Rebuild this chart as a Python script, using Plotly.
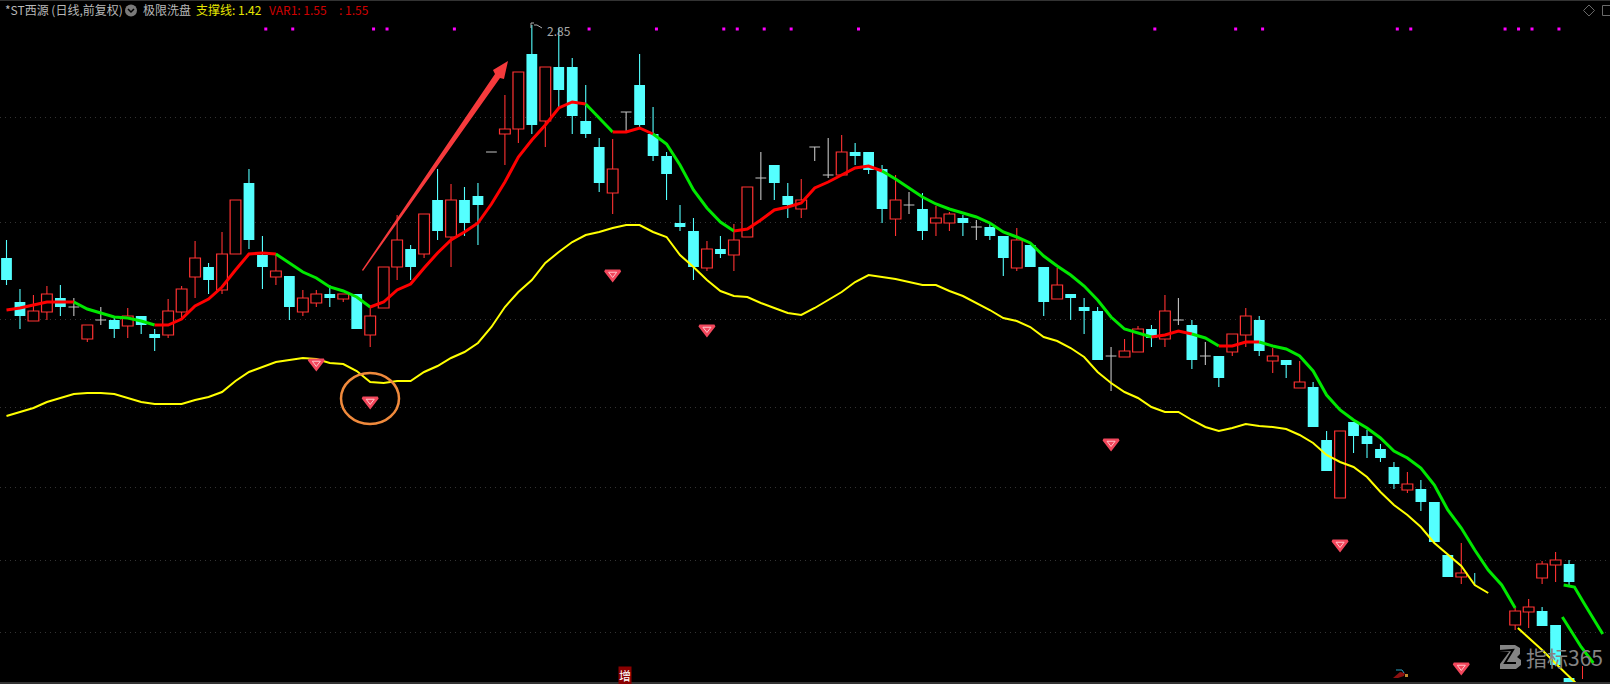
import plotly.graph_objects as go

# ---- data (prices) ----
bar_index = list(range(109)) + [112, 113, 114, 115, 116, 114, 115, 116]
open_ = [2.384,2.296,2.258,2.276,2.304,2.286,2.222,2.26,2.26,2.248,2.268,2.232,2.23,2.276,2.346,2.366,2.32,2.392,2.534,2.39,
         2.346,2.348,2.276,2.294,2.312,2.302,2.312,2.23,2.284,2.366,2.402,2.392,2.5,2.426,2.5,2.508,2.596,2.632,2.642,2.792,
         2.658,2.766,2.766,2.658,2.606,2.514,2.676,2.73,2.632,2.588,2.454,2.438,2.364,2.402,2.39,2.426,2.544,2.57,2.508,2.482,
         2.606,2.55,2.55,2.596,2.596,2.562,2.462,2.49,2.482,2.454,2.454,2.464,2.446,2.446,2.428,2.364,2.41,2.366,2.302,2.312,
         2.286,2.278,2.188,2.186,2.196,2.242,2.222,2.26,2.25,2.188,2.188,2.196,2.23,2.26,2.178,2.18,2.124,2.126,2.02,1.904,
         2.056,2.028,2.002,1.966,1.92,1.922,1.896,1.79,1.746,
         1.65,1.676,1.678,1.65,1.544,1.744,1.77,1.772]
high = [2.42,2.322,2.31,2.328,2.33,2.304,2.25,2.286,2.268,2.284,2.268,2.242,2.302,2.328,2.418,2.374,2.436,2.5,2.562,2.428,
        2.394,2.348,2.32,2.32,2.33,2.312,2.312,2.286,2.366,2.47,2.41,2.472,2.562,2.532,2.526,2.534,2.596,2.71,2.756,2.85,
        2.766,2.844,2.784,2.73,2.624,2.622,2.676,2.792,2.686,2.596,2.49,2.464,2.418,2.428,2.452,2.526,2.596,2.57,2.534,2.542,
        2.606,2.624,2.63,2.614,2.596,2.57,2.55,2.516,2.514,2.488,2.476,2.47,2.46,2.452,2.428,2.444,2.41,2.366,2.364,2.312,
        2.304,2.286,2.206,2.222,2.248,2.25,2.31,2.304,2.26,2.216,2.188,2.232,2.284,2.268,2.204,2.18,2.178,2.136,2.038,2.038,
        2.056,2.04,2.012,1.976,1.956,1.94,1.896,1.79,1.814,
        1.684,1.702,1.686,1.65,1.544,1.778,1.796,1.78]
low = [2.33,2.242,2.258,2.26,2.268,2.268,2.216,2.25,2.224,2.224,2.232,2.198,2.224,2.264,2.304,2.312,2.312,2.392,2.402,2.322,
       2.33,2.26,2.268,2.286,2.286,2.296,2.242,2.206,2.284,2.34,2.34,2.384,2.42,2.366,2.428,2.41,2.596,2.57,2.614,2.632,
       2.606,2.686,2.632,2.624,2.516,2.472,2.634,2.646,2.578,2.5,2.438,2.34,2.358,2.384,2.358,2.426,2.5,2.5,2.464,2.464,
       2.578,2.544,2.55,2.57,2.552,2.454,2.428,2.472,2.42,2.428,2.438,2.428,2.42,2.42,2.348,2.358,2.366,2.268,2.302,2.26,
       2.232,2.18,2.118,2.186,2.196,2.206,2.206,2.25,2.162,2.17,2.126,2.188,2.206,2.188,2.154,2.144,2.124,2.046,1.958,1.904,
       1.994,1.984,1.976,1.922,1.914,1.878,1.816,1.746,1.732,
       1.64,1.644,1.648,1.57,1.53,1.732,1.736,1.728]
close = [2.34,2.268,2.278,2.312,2.286,2.286,2.25,2.26,2.242,2.268,2.25,2.224,2.278,2.322,2.384,2.34,2.392,2.5,2.42,2.366,
         2.358,2.286,2.304,2.312,2.304,2.312,2.242,2.268,2.366,2.42,2.366,2.472,2.438,2.5,2.454,2.49,2.596,2.642,2.756,2.65,
         2.766,2.72,2.668,2.632,2.534,2.562,2.676,2.65,2.588,2.552,2.446,2.366,2.402,2.392,2.42,2.526,2.544,2.534,2.49,2.5,
         2.606,2.55,2.596,2.588,2.56,2.482,2.5,2.49,2.438,2.464,2.472,2.454,2.446,2.428,2.384,2.42,2.366,2.296,2.33,2.304,
         2.278,2.18,2.188,2.198,2.242,2.224,2.278,2.26,2.18,2.188,2.144,2.232,2.268,2.198,2.188,2.17,2.136,2.046,1.958,2.038,
         2.028,2.012,1.984,1.932,1.932,1.896,1.816,1.746,1.754,
         1.678,1.686,1.648,1.57,1.53,1.772,1.78,1.736]

stub_index = [109, 117]
stub_high = [1.754, 1.568]
stub_low = [1.73, 1.542]
stub_color = ["#54FFFF", "#FF3232"]

var1 = [2.28,2.284,2.29,2.296,2.296,2.296,2.282,2.274,2.266,2.264,2.258,2.25,2.25,2.262,2.288,2.302,2.326,2.36,2.392,2.394,
        2.392,2.374,2.356,2.344,2.326,2.318,2.306,2.286,2.296,2.32,2.332,2.364,2.394,2.42,2.436,2.454,2.492,2.536,2.586,2.62,
        2.65,2.684,2.696,2.692,2.664,2.636,2.636,2.644,2.632,2.612,2.57,2.52,2.484,2.456,2.438,2.442,2.46,2.48,2.486,2.494,
        2.524,2.536,2.55,2.564,2.568,2.558,2.542,2.524,2.506,2.492,2.482,2.474,2.466,2.454,2.436,2.426,2.414,2.388,2.368,2.35,
        2.328,2.3,2.266,2.242,2.234,2.226,2.23,2.238,2.232,2.224,2.208,2.208,2.216,2.216,2.208,2.202,2.188,2.158,2.11,2.08,
        2.06,2.044,2.024,1.998,1.984,1.964,1.93,1.88,1.844,1.8,1.76,1.73,1.684]
var1_turns = [0,5,11,20,27,43,45,48,54,65,85,88,90,93,112]

support = [2.068,2.076,2.084,2.096,2.104,2.112,2.114,2.114,2.112,2.104,2.096,2.092,2.092,2.092,2.1,2.106,2.116,2.138,2.156,2.166,
           2.176,2.18,2.184,2.182,2.174,2.172,2.158,2.136,2.134,2.138,2.138,2.156,2.168,2.184,2.196,2.214,2.246,2.286,2.316,2.34,
           2.374,2.396,2.416,2.43,2.436,2.444,2.45,2.45,2.436,2.426,2.39,2.366,2.34,2.318,2.308,2.306,2.294,2.284,2.274,2.27,
           2.284,2.3,2.316,2.336,2.35,2.346,2.342,2.336,2.33,2.33,2.318,2.308,2.294,2.28,2.264,2.258,2.246,2.226,2.218,2.204,
           2.186,2.156,2.134,2.116,2.104,2.086,2.076,2.076,2.06,2.046,2.038,2.044,2.052,2.048,2.046,2.042,2.03,2.014,1.99,1.976,
           1.966,1.946,1.916,1.89,1.87,1.846,1.814,1.79,1.768,1.73,1.714]

support_tail_x = [112.2, 114, 115.5, 116.5]
support_tail = [1.644, 1.6, 1.56, 1.534]
green_tail_a_x = [115.5, 116.9, 117.8]
green_tail_a = [1.666, 1.606, 1.574]
green_tail_b_x = [115.6, 116.4, 117.1, 118.5]
green_tail_b = [1.73, 1.726, 1.694, 1.632]

gem_index = [23, 27, 45, 52, 82, 99, 108]
gem_price = [2.174, 2.098, 2.352, 2.242, 2.014, 1.812, 1.566]

signal_index = [19,21,27,28,33,43,48,53,54,56,58,63,85,91,93,103,104,111,112,113,115]
signal_level = 2.842

grid_levels = [2.666, 2.456, 2.262, 2.086, 1.926, 1.78, 1.636]

BAR = 0.8
RED, CYAN, GREY = "#FF3232", "#54FFFF", "#C4C4C4"

fig = go.Figure()

# candle bodies
up = [k for k in range(len(bar_index)) if close[k] > open_[k]]
dn = [k for k in range(len(bar_index)) if close[k] < open_[k]]
fl = [k for k in range(len(bar_index)) if close[k] == open_[k]]
fig.add_trace(go.Bar(x=[bar_index[k] for k in up], y=[close[k]-open_[k] for k in up], base=[open_[k] for k in up],
                     width=BAR, marker=dict(color="#000000", line=dict(color=RED, width=1.2)), hoverinfo="skip"))
fig.add_trace(go.Bar(x=[bar_index[k] for k in dn], y=[close[k]-open_[k] for k in dn], base=[open_[k] for k in dn],
                     width=BAR, marker=dict(color=CYAN, line=dict(color=CYAN, width=0)), hoverinfo="skip"))

# wicks, stopping at the body so that hollow candles stay empty
def wicks(keys):
    xs, ys = [], []
    for k in keys:
        top, bot = max(open_[k], close[k]), min(open_[k], close[k])
        if high[k] > top:
            xs += [bar_index[k], bar_index[k], None]; ys += [top, high[k], None]
        if low[k] < bot:
            xs += [bar_index[k], bar_index[k], None]; ys += [bot, low[k], None]
    return xs, ys

for keys, col in ((up, RED), (dn, CYAN), (fl, GREY)):
    xs, ys = wicks(keys)
    fig.add_trace(go.Scatter(x=xs, y=ys, mode="lines", line=dict(color=col, width=1.1), hoverinfo="skip"))

dx, dy = [], []
for k in fl:
    dx += [bar_index[k]-BAR/2, bar_index[k]+BAR/2, None]; dy += [open_[k], open_[k], None]
fig.add_trace(go.Scatter(x=dx, y=dy, mode="lines", line=dict(color=GREY, width=1), hoverinfo="skip"))

for i, hi, lo, col in zip(stub_index, stub_high, stub_low, stub_color):
    fig.add_trace(go.Scatter(x=[i, i], y=[hi, lo], mode="lines", line=dict(color=col, width=1), hoverinfo="skip"))

# support line
fig.add_trace(go.Scatter(x=list(range(len(support))), y=support, mode="lines",
                         line=dict(color="#FFFF00", width=2), hoverinfo="skip"))
fig.add_trace(go.Scatter(x=support_tail_x, y=support_tail, mode="lines",
                         line=dict(color="#FFFF00", width=2), hoverinfo="skip"))

# VAR1 line: red while rising, green while falling
for s, (a, b) in enumerate(zip(var1_turns[:-1], var1_turns[1:])):
    fig.add_trace(go.Scatter(x=list(range(a, b+1)), y=var1[a:b+1], mode="lines",
                             line=dict(color="#FF0000" if s % 2 == 0 else "#00E800", width=3), hoverinfo="skip"))
for tx, ty in ((green_tail_a_x, green_tail_a), (green_tail_b_x, green_tail_b)):
    fig.add_trace(go.Scatter(x=tx, y=ty, mode="lines", line=dict(color="#00E800", width=3), hoverinfo="skip"))

# gem signals
fig.add_trace(go.Scatter(x=gem_index, y=gem_price, mode="markers", hoverinfo="skip",
                         marker=dict(symbol="triangle-down", size=13, color="#F2475C", line=dict(color="#F2475C", width=2.5))))
fig.add_trace(go.Scatter(x=gem_index, y=gem_price, mode="markers", hoverinfo="skip",
                         marker=dict(symbol="triangle-down-open", size=7, color="#FFC4CA", line=dict(color="#FFC4CA", width=1))))

# magenta dots
fig.add_trace(go.Scatter(x=[i+0.25 for i in signal_index], y=[signal_level]*len(signal_index), mode="markers",
                         hoverinfo="skip", marker=dict(symbol="square", size=3, color="#FF00FF")))

W, H = 1610, 684
PX = lambda x: x/W
PY = lambda y: 1-y/H

def path(points, close_path=True):
    return "M" + " L".join(f"{PX(x):.5f},{PY(y):.5f}" for x, y in points) + (" Z" if close_path else "")

shapes = []
# the grid stops at the repainted lower right corner
shapes.append(dict(type="rect", xref="paper", yref="paper", x0=PX(1473), x1=1, y0=PY(682), y1=PY(540), layer="below",
                   line=dict(width=0), fillcolor="#000000"))
shapes.append(dict(type="path", xref="paper", yref="paper", line=dict(width=0), fillcolor="#F63A3C",
                   path=path([(362,270),(495,74),(493,70),(508,61),(504,79),(500,78),(363,271)])))
shapes.append(dict(type="circle", xref="paper", yref="paper", x0=PX(341), x1=PX(399), y0=PY(424), y1=PY(373),
                   line=dict(color="#F08A3C", width=2.5)))
# frame lines
shapes.append(dict(type="rect", xref="paper", yref="paper", x0=0, x1=1, y0=PY(1), y1=1, line=dict(width=0), fillcolor="#333333"))
shapes.append(dict(type="rect", xref="paper", yref="paper", x0=0, x1=1, y0=0, y1=PY(682), line=dict(width=0), fillcolor="#333333"))
# header toggle
shapes.append(dict(type="circle", xref="paper", yref="paper", x0=PX(125), x1=PX(137), y0=PY(16.5), y1=PY(4.5),
                   line=dict(width=0), fillcolor="#7A7A7A"))
shapes.append(dict(type="path", xref="paper", yref="paper", line=dict(color="#000000", width=1.5),
                   path=path([(128,9),(131,12),(134,9)], False)))
# top right icons
shapes.append(dict(type="path", xref="paper", yref="paper", line=dict(color="#6A6A6A", width=1),
                   path=path([(1589,5),(1594.5,10.5),(1589,16),(1583.5,10.5)])))
shapes.append(dict(type="rect", xref="paper", yref="paper", x0=PX(1602.5), x1=PX(1612), y0=PY(15.5), y1=PY(5.5),
                   line=dict(color="#6A6A6A", width=1)))
# high-price flag
shapes.append(dict(type="path", xref="paper", yref="paper", line=dict(color="#B0B0B0", width=1),
                   path=path([(531,28),(531,23),(534,23)], False)))
shapes.append(dict(type="path", xref="paper", yref="paper", line=dict(color="#B0B0B0", width=1),
                   path=path([(534,25),(537,25),(542,28)], False)))
# small bird mark
shapes.append(dict(type="path", xref="paper", yref="paper", line=dict(width=0), fillcolor="#8C1010",
                   path=path([(1393,678),(1400,672),(1405,673),(1404,676),(1398,678)])))
shapes.append(dict(type="path", xref="paper", yref="paper", line=dict(color="#2AA0C0", width=1),
                   path=path([(1396,670),(1402,670),(1404,673)], False)))
shapes.append(dict(type="rect", xref="paper", yref="paper", x0=PX(1405), x1=PX(1408), y0=PY(677), y1=PY(674),
                   line=dict(width=0), fillcolor="#C08A30"))
# watermark logo
LOGO = "#848484"
shapes.append(dict(type="path", xref="paper", yref="paper", line=dict(width=0), fillcolor=LOGO, layer="above",
                   path=path([(1500,645),(1515,645),(1520,648),(1520,654),(1517,657),(1521,660),(1521,665),(1516,669),
                              (1500,669),(1500,664),(1509,652),(1500,652)])))
shapes.append(dict(type="path", xref="paper", yref="paper", line=dict(color="#000000", width=2), layer="above",
                   path=path([(1499,651),(1513,650),(1505,663),(1516,663)], False)))

TXT = "Noto Sans CJK SC"
def label(x, y, text, color, size=12, **kw):
    return dict(xref="paper", yref="paper", x=PX(x), y=PY(y), text=text, showarrow=False, xanchor="left", yanchor="middle",
                font=dict(family=TXT, size=size, color=color), **kw)

annotations = [
    label(3, 10, "*ST西源 (日线,前复权)", "#B8B8B8"),
    label(141, 10, "极限洗盘", "#B8B8B8"),
    label(194, 10, "支撑线: 1.42", "#E6E600"),
    label(267, 10, "VAR1: 1.55", "#D00000"),
    label(337, 10, ": 1.55", "#D00000"),
    label(545, 30, "2.85", "#A8A8A8", 12),
    label(618, 675, "增", "#FFFFFF", 12, bgcolor="#8B0000", borderpad=0),
    label(1524, 657, "指标365", "#848484", 21),
]

fig.update_layout(
    width=W, height=H, margin=dict(l=0, r=0, t=0, b=0),
    paper_bgcolor="#000000", plot_bgcolor="#000000", showlegend=False, barmode="overlay",
    xaxis=dict(range=[-0.4826, 119.04], visible=False),
    yaxis=dict(range=[1.532, 2.9], showticklabels=False, ticks="", zeroline=False, showline=False,
               tickmode="array", tickvals=grid_levels, showgrid=True, gridcolor="#333333", griddash="1px,4px", gridwidth=1),
    shapes=shapes, annotations=annotations,
)

fig.write_html("out.html", config={"displayModeBar": False},
               post_script="document.body.style.margin='0';document.body.style.overflow='hidden';")
